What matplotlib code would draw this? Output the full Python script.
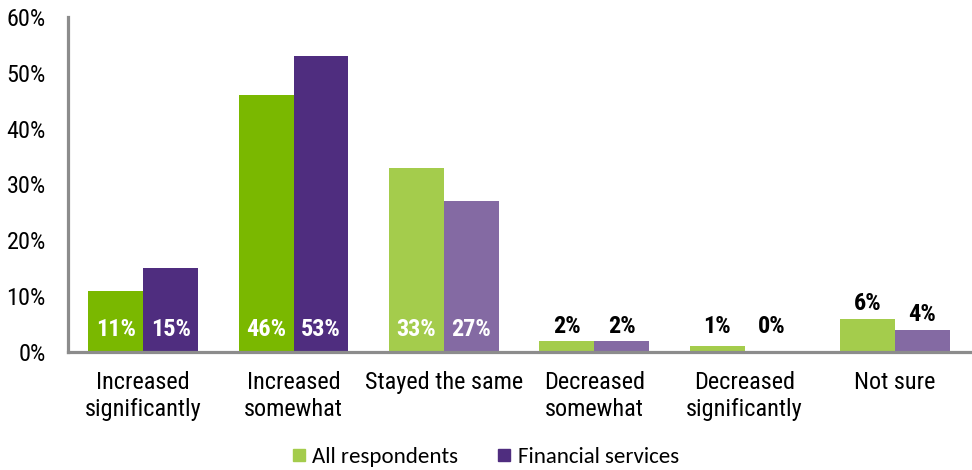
import numpy as np
import matplotlib.pyplot as plt
from matplotlib.lines import Line2D
from matplotlib import font_manager as fm

CATEGORIES = ["Increased\nsignificantly",
              "Increased\nsomewhat",
              "Stayed the same",
              "Decreased\nsomewhat",
              "Decreased\nsignificantly",
              "Not sure"]

ALL_RESP = [0.11, 0.46, 0.33, 0.02, 0.01, 0.06]
FIN_SERV = [0.15, 0.53, 0.27, 0.02, 0.00, 0.04]

SERIES = ["All respondents", "Financial services"]

# "increased" categories get the strong colours, the rest the pale ones
GREEN_DARK, GREEN_LIGHT = "#7AB800", "#A4CC4C"
PURPLE_DARK, PURPLE_LIGHT = "#4F2D7F", "#846AA3"
AXIS_GREY = "#8C8C8C"


def pick_font(candidates, default):
    have = {f.name for f in fm.fontManager.ttflist}
    for c in candidates:
        if c in have:
            return c
    return default


NARROW = pick_font(["Arial Narrow", "Liberation Sans Narrow", "Roboto Condensed",
                    "Archivo Narrow", "PT Sans Narrow", "Pragati Narrow"], "Liberation Sans")
LEGEND_FONT = pick_font(["Calibri", "Carlito", "Lato"], "DejaVu Sans")

fig = plt.figure(figsize=(9.72, 4.70), dpi=100)
ax = fig.add_axes([0.070, 0.251, 0.928, 0.713])

x = np.arange(len(CATEGORIES))
w = 0.365
green = [GREEN_DARK if i < 2 else GREEN_LIGHT for i in x]
purple = [PURPLE_DARK if i < 2 else PURPLE_LIGHT for i in x]

b1 = ax.bar(x - w / 2, ALL_RESP, w, color=green, zorder=2)
b2 = ax.bar(x + w / 2, FIN_SERV, w, color=purple, zorder=2)

for bars, vals in ((b1, ALL_RESP), (b2, FIN_SERV)):
    for b, v in zip(bars, vals):
        cx = b.get_x() + b.get_width() / 2
        txt = "%d%%" % round(v * 100)
        if v >= 0.1:
            ax.text(cx, 0.0287, txt, ha="center", va="baseline", color="white",
                    fontsize=17.5, fontweight="bold", family=NARROW, zorder=3)
        else:
            ax.annotate(txt, (cx, max(v, 0.02)), xytext=(0, 6), textcoords="offset points",
                        ha="center", va="baseline", color="black",
                        fontsize=17.5, fontweight="bold", family=NARROW)

ax.set_xlim(-0.5, len(CATEGORIES) - 0.5)
ax.set_ylim(0, 0.6)
ax.set_yticks(np.arange(0, 0.61, 0.1))
ax.set_yticklabels(["%d%%" % round(t * 100) for t in np.arange(0, 0.61, 0.1)],
                   family=NARROW, fontsize=17.5)
ax.set_xticks(x)
ax.set_xticklabels(CATEGORIES, family=NARROW, fontsize=17.5, linespacing=1.2)
ax.tick_params(axis="y", length=0, pad=16)
ax.tick_params(axis="x", length=0, pad=14)

for s in ("top", "right"):
    ax.spines[s].set_visible(False)
for s in ("left", "bottom"):
    ax.spines[s].set_color(AXIS_GREY)
    ax.spines[s].set_linewidth(2.3)

handles = [Line2D([], [], marker="s", ls="none", markersize=9, color=GREEN_LIGHT),
           Line2D([], [], marker="s", ls="none", markersize=9, color=PURPLE_DARK)]
fig.legend(handles, SERIES, loc="center", bbox_to_anchor=(0.497, 0.028), ncol=2,
           frameon=False, prop={"family": LEGEND_FONT, "size": 16.5},
           handletextpad=0.1, columnspacing=1.5, handlelength=1.0)

fig.savefig("out.png", dpi=100)
